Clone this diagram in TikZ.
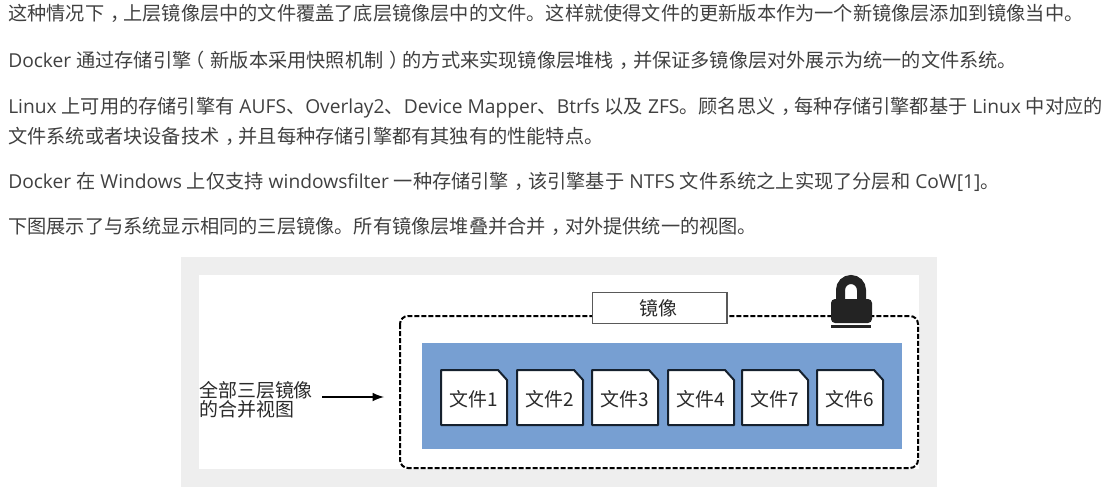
\documentclass[tikz,border=0pt]{standalone}
\usepackage{fontspec}
\setmainfont{Open Sans}
\newfontfamily\cjk{Noto Sans CJK SC}
\newcommand{\zh}[1]{{\cjk #1}}
\newcommand{\zcomma}{{\cjk\kern0.3em，\kern-0.3em}}
\newcommand{\zopen}{{\cjk\kern-0.3em（\kern0.3em}}
\newcommand{\zclose}{{\cjk\kern0.3em）\kern-0.3em}}
\definecolor{textgrey}{HTML}{404040}
\definecolor{figgrey}{HTML}{2A2A2A}
\definecolor{framegrey}{HTML}{EEEEEE}
\definecolor{layerblue}{HTML}{779FD2}
\definecolor{filenavy}{HTML}{16212E}
\definecolor{lockblack}{HTML}{232323}
\tikzset{
    paratext/.style={anchor=base west,inner sep=0pt,text=textgrey,font=\fontsize{14.4pt}{19pt}\selectfont},
    figtext/.style={inner sep=0pt,text=figgrey,font=\cjk\fontsize{14.2pt}{14.4pt}\selectfont},
    fileshape/.style={draw=filenavy,fill=white,line width=1.5pt,line join=round},
}

\begin{document}
\begin{tikzpicture}[x=0.75pt,y=0.75pt,yscale=-1,xscale=1]
    \useasboundingbox (0,0) rectangle (1118,489);

    % Text Node
    \node (linea) [paratext] at (8,21) {\zh{这种情况下}\zcomma\zh{上层镜像层中的文件覆盖了底层镜像层中的文件。这样就使得文件的更新版本作为一个新镜像层添加到镜像当中。}};
    % Text Node
    \node (lineb) [paratext] at (8,67) {Docker \zh{通过存储引擎}\zopen\zh{新版本采用快照机制}\zclose\zh{的方式来实现镜像层堆栈}\zcomma\zh{并保证多镜像层对外展示为统一的文件系统。}};
    % Text Node
    \node (linec) [paratext] at (8,113) {Linux \zh{上可用的存储引擎有} AUFS\zh{、}Overlay2\zh{、}Device Mapper\zh{、}Btrfs \zh{以及} ZFS\zh{。顾名思义}\zcomma\zh{每种存储引擎都基于} Linux \zh{中对应的}};
    % Text Node
    \node (lined) [paratext] at (8,143) {\zh{文件系统或者块设备技术}\zcomma\zh{并且每种存储引擎都有其独有的性能特点。}};
    % Text Node
    \node (linee) [paratext] at (8,188) {Docker \zh{在} Windows \zh{上仅支持} windowsfilter \zh{一种存储引擎}\zcomma\zh{该引擎基于} NTFS \zh{文件系统之上实现了分层和} CoW[1]\zh{。}};
    % Text Node
    \node (linef) [paratext] at (8,233) {\zh{下图展示了与系统显示相同的三层镜像。所有镜像层堆叠并合并}\zcomma\zh{对外提供统一的视图。}};

    %Shape: Frame
    \fill [framegrey] (181,257) rectangle (937,487);
    \fill [white] (199,275) rectangle (919,469);

    %Shape: Dashed Box
    \draw [black,line width=1.5pt,dash pattern=on 3.75pt off 1.5pt,rounded corners=6pt] (400,316) rectangle (918,468);
    %Shape: Layer
    \fill [layerblue] (422,343) rectangle (902,449);

    %Shape: Files
    \foreach \xpos/\fname/\flabel in {441/filea/文件1,517/fileb/文件2,592/filec/文件3,668/filed/文件4,742/filee/文件7,817/filef/文件6}{
        \draw [fileshape] (\xpos,370) -- (\xpos+57,370) -- (\xpos+66,380) -- (\xpos+66,425) -- (\xpos,425) -- cycle ;
        \node (\fname) [figtext] at (\xpos+33,399) {\flabel};
    }

    % Text Node
    \node (imagelabel) [figtext,draw=black!65,fill=white,line width=1pt,minimum width=101pt,minimum height=23pt] at (659.5,308) {\kern-2pt 镜像};

    %Shape: Lock
    \draw [lockblack,line width=6.75pt] (840.5,300) -- (840.5,290) arc [start angle=180,end angle=360,radius=10.5] -- (861.5,300);
    \fill [lockblack,rounded corners=3pt] (831,299) rectangle (872,323);
    \fill [lockblack] (831,325) rectangle (871,327.5);

    % Text Node
    \node (viewlabel) [figtext,anchor=west,align=left] at (199,400) {全部三层镜像\\的合并视图};

    \coordinate (arrowstart) at (322,397);
    \coordinate (arrowend) at (384,397);
    \draw [-latex,black,line width=1.9pt] (arrowstart) -- (arrowend);
\end{tikzpicture}
\end{document}
